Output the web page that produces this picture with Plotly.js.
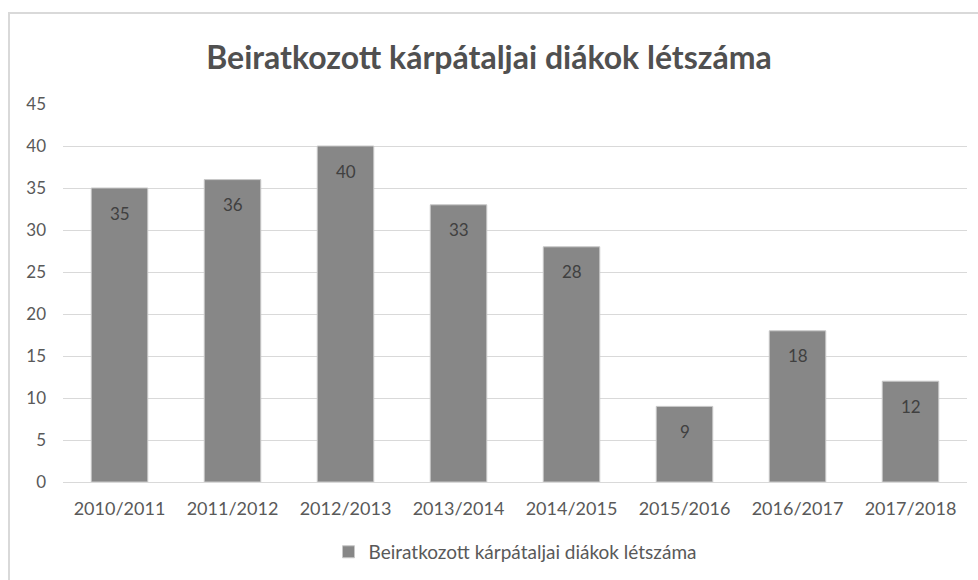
<!DOCTYPE html>
<html>
<head>
<meta charset="utf-8">
<script src="https://cdn.plot.ly/plotly-3.0.1.min.js"></script>
<style>html,body{margin:0;padding:0;background:#fff;}#chart{width:978px;height:580px;}</style>
</head>
<body>
<div id="chart"></div>
<script>
const categories = ["2010/2011","2011/2012","2012/2013","2013/2014","2014/2015","2015/2016","2016/2017","2017/2018"];
const values = [35, 36, 40, 33, 28, 9, 18, 12];
const seriesName = "Beiratkozott kárpátaljai diákok létszáma";
const yTicks = [0,5,10,15,20,25,30,35,40,45];

const FONT = "Lato, 'Noto Sans', sans-serif";
const TXT = "#595959";

const trace = {
  type: "bar",
  x: categories,
  y: values,
  name: seriesName,
  marker: {color: "#878787", line: {color: "#c8c8c8", width: 1}},
  hoverinfo: "skip",
  showlegend: true
};

const annotations = categories.map((c, i) => ({
  x: c, y: values[i], xref: "x", yref: "y",
  text: String(values[i]), showarrow: false, yshift: -25,
  font: {family: FONT, size: 17, color: "#404040"}
}));

const layout = {
  width: 978, height: 580,
  margin: {l: 63, r: 11, t: 104, b: 98, autoexpand: false},
  paper_bgcolor: "#ffffff", plot_bgcolor: "#ffffff",
  title: {text: "Beiratkozott kárpátaljai diákok létszáma", x: 0.5, xanchor: "center", y: 1 - 58/580, yanchor: "middle",
          font: {family: FONT, size: 32, weight: 700, color: "#505050"}},
  bargap: 0.5,
  xaxis: {type: "category", showgrid: false, zeroline: false, showline: true, linecolor: "#d9d9d9", linewidth: 1, automargin: false,
          ticks: "", tickfont: {family: FONT, size: 18, color: TXT}, ticklabelstandoff: 10, fixedrange: true},
  yaxis: {range: [0, 45], tickvals: yTicks, ticktext: yTicks.map(String), showgrid: true, gridcolor: "#d9d9d9", gridwidth: 1, automargin: false,
          zeroline: false, showline: false, ticks: "", tickfont: {family: FONT, size: 17, color: TXT}, ticklabelstandoff: 16, fixedrange: true},
  legend: {orientation: "h", x: 0.5, xanchor: "center", y: -0.185, yanchor: "middle",
           font: {family: FONT, size: 19, color: TXT}, itemwidth: 30},
  annotations: annotations,
  shapes: [{type: "rect", xref: "paper", yref: "paper", x0: (9-63)/904, x1: 1.1, y0: -0.5, y1: (482-13)/378,
            line: {color: "#d9d9d9", width: 2}, fillcolor: "rgba(0,0,0,0)", layer: "below"}]
};

Plotly.newPlot("chart", [trace], layout, {displayModeBar: false, staticPlot: true});
</script>
</body>
</html>
